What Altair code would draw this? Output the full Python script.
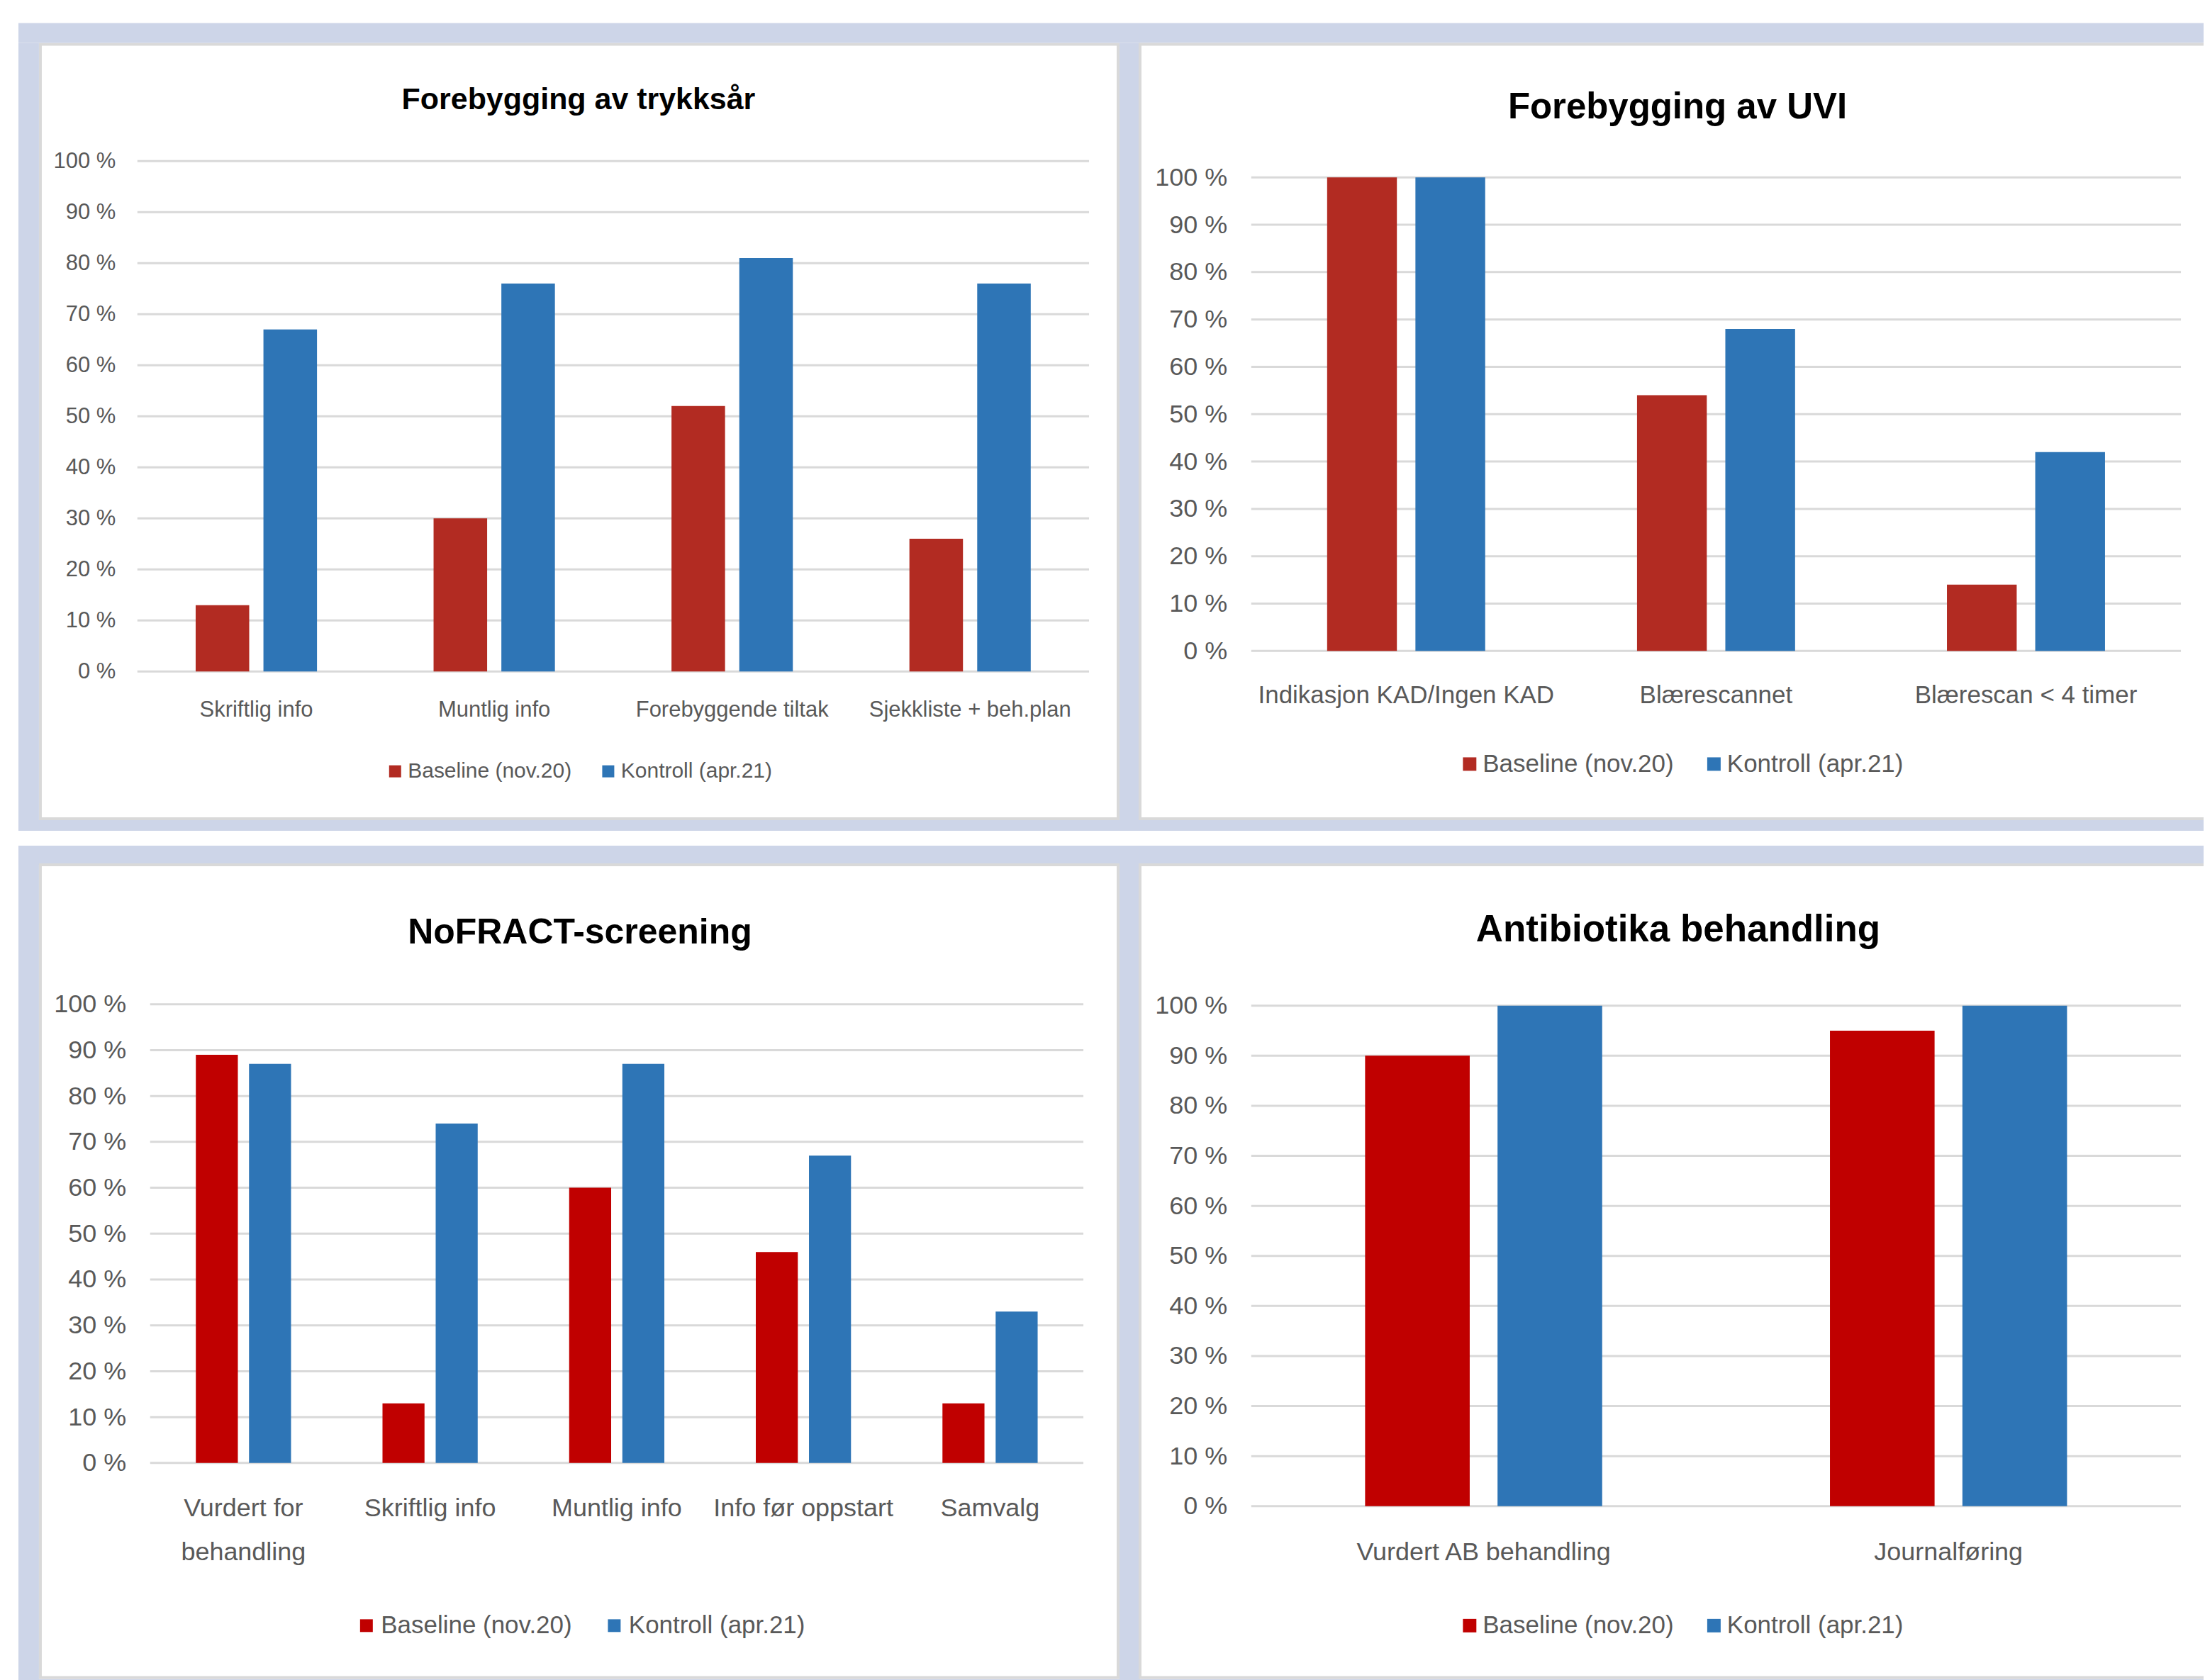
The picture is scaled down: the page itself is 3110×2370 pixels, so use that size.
import altair as alt
import pandas as pd

# ---- data -------------------------------------------------------------
SERIES = ["Baseline (nov.20)", "Kontroll (apr.21)"]
PERCENT_TICKS = [0, 10, 20, 30, 40, 50, 60, 70, 80, 90, 100]

trykk_title = "Forebygging av trykksår"
trykk_categories = ["Skriftlig info", "Muntlig info", "Forebyggende tiltak", "Sjekkliste + beh.plan"]
trykk_baseline = [13, 30, 52, 26]
trykk_kontroll = [67, 76, 81, 76]

uvi_title = "Forebygging av UVI"
uvi_categories = ["Indikasjon KAD/Ingen KAD", "Blærescannet", "Blærescan < 4 timer"]
uvi_baseline = [100, 54, 14]
uvi_kontroll = [100, 68, 42]

nofract_title = "NoFRACT-screening"
nofract_categories = ["Vurdert for\nbehandling", "Skriftlig info", "Muntlig info", "Info før oppstart", "Samvalg"]
nofract_baseline = [89, 13, 60, 46, 13]
nofract_kontroll = [87, 74, 87, 67, 33]

ab_title = "Antibiotika behandling"
ab_categories = ["Vurdert AB behandling", "Journalføring"]
ab_baseline = [90, 95]
ab_kontroll = [100, 100]

# ---- style ------------------------------------------------------------
FONT = "'Liberation Sans', Arial, sans-serif"
RED_TOP = "#B22B22"
RED_BOTTOM = "#C00000"
BLUE = "#2E75B6"
FRAME = "#CDD5E8"
GRID = "#D9D9D9"
TEXT_GREY = "#595959"


def rect(x, x2, y, y2, color):
    return alt.Chart(pd.DataFrame({"s": [0]})).mark_rect(color=color).encode(
        x=alt.value(x), x2=alt.value(x2), y=alt.value(y), y2=alt.value(y2)
    )


def panel(title, categories, baseline, kontroll, red, layout, before=(), after=()):
    L = layout
    df = pd.DataFrame({
        "kategori": list(categories) * 2,
        "serie": [SERIES[0]] * len(categories) + [SERIES[1]] * len(categories),
        "andel": list(baseline) + list(kontroll),
    })

    y_scale = alt.Scale(domain=[0, 100], range=[L["y0"], L["y100"]], nice=False)
    y_axis = alt.Axis(
        values=PERCENT_TICKS, labelExpr="datum.value + ' %'", title=None,
        domain=False, ticks=False, tickSize=0, grid=False, labelPadding=0,
        offset=-L["tick_right"], labelFont=FONT, labelFontSize=L["tick_fs"],
        labelColor=TEXT_GREY,
    )

    gridlines = alt.Chart(pd.DataFrame({"andel": PERCENT_TICKS})).mark_rule(
        color=GRID, strokeWidth=3
    ).encode(
        y=alt.Y("andel:Q", scale=y_scale, axis=y_axis),
        x=alt.value(L["plot_left"]),
        x2=alt.value(L["plot_right"]),
    )

    bars = alt.Chart(df).mark_bar().encode(
        x=alt.X(
            "kategori:N", sort=list(categories),
            scale=alt.Scale(range=[L["plot_left"], L["plot_right"]],
                            paddingInner=0.49, paddingOuter=0.245),
            axis=alt.Axis(
                title=None, domain=False, ticks=False, tickSize=0, grid=False,
                labelPadding=0, labelAngle=0, labelBaseline="alphabetic",
                labelFont=FONT, labelFontSize=L["cat_fs"], labelColor=TEXT_GREY,
                labelLimit=0, labelOverlap=False,
                labelExpr="split(datum.label, '\\n')",
                labelLineHeight=L.get("cat_lh", 60),
                offset=L["cat_base"] - L["H"],
            ),
        ),
        xOffset=alt.XOffset("serie:N", sort=SERIES,
                            scale=alt.Scale(paddingInner=0.21, paddingOuter=0)),
        y=alt.Y("andel:Q", scale=y_scale, axis=y_axis),
        color=alt.Color(
            "serie:N", sort=SERIES,
            scale=alt.Scale(domain=SERIES, range=[red, BLUE]),
            legend=alt.Legend(
                title=None, orient="none", direction="horizontal",
                legendX=L["leg_x"], legendY=L["leg_y"], padding=0,
                symbolType="square", symbolSize=L["sym"] ** 2,
                symbolStrokeWidth=0, symbolOpacity=1,
                labelFont=FONT, labelFontSize=L["leg_fs"], labelColor=TEXT_GREY,
                labelOffset=L["leg_gap"], columnPadding=L["leg_col"], labelLimit=0,
            ),
        ),
    )

    heading = alt.Chart(pd.DataFrame({"tittel": [title]})).mark_text(
        font=FONT, fontSize=L["title_fs"], fontWeight="bold", color="#000000",
        align="center", baseline="alphabetic",
    ).encode(
        text="tittel:N",
        x=alt.value(L["title_x"]),
        y=alt.value(L["title_y"]),
    )

    return alt.layer(*before, gridlines, bars, heading, *after).properties(
        width=L["W"], height=L["H"]
    )


# blue-grey frame around the panels, positioned relative to the first panel
frame = [
    rect(-31, 3055, -30, -2, FRAME),        # above the top row
    rect(-31, -2, -2, 1111, FRAME),         # left of the top row
    rect(-31, -2, 1132, 2311, FRAME),       # left of the bottom row
    rect(1524, 1553, -2, 1111, FRAME),      # between the columns, top row
    rect(1524, 1553, 1132, 2311, FRAME),    # between the columns, bottom row
    rect(-31, 3055, 1096, 1111, FRAME),     # below the top row
    rect(-31, 3055, 1132, 1159, FRAME),     # above the bottom row
    rect(-31, 3055, 2309, 2311, FRAME),     # below the bottom row
]

# the right-hand panels run on past the right edge: hide their right border
open_right = [
    rect(1498, 1502, -1157, -67, "white"),
    rect(1498, 1502, 2, 1146, "white"),
]

tl = panel(trykk_title, trykk_categories, trykk_baseline, trykk_kontroll, RED_TOP, dict(
    W=1522, H=1094, plot_left=137, plot_right=1481, y0=886, y100=165,
    tick_right=106, tick_fs=31, cat_base=949, cat_fs=31,
    title_x=760, title_y=92, title_fs=43,
    leg_x=486, leg_y=1012, leg_fs=30, sym=17, leg_gap=3, leg_col=36,
), before=frame)

tr = panel(uvi_title, uvi_categories, uvi_baseline, uvi_kontroll, RED_TOP, dict(
    W=1500, H=1094, plot_left=157, plot_right=1470, y0=857, y100=188,
    tick_right=123, tick_fs=36, cat_base=930, cat_fs=35,
    title_x=759, title_y=105, title_fs=51,
    leg_x=448, leg_y=999, leg_fs=35, sym=19, leg_gap=1, leg_col=39,
))

bl = panel(nofract_title, nofract_categories, nofract_baseline, nofract_kontroll, RED_BOTTOM, dict(
    W=1522, H=1148, plot_left=155, plot_right=1473, y0=845, y100=197,
    tick_right=121, tick_fs=36, cat_base=920, cat_fs=36, cat_lh=62,
    title_x=762, title_y=111, title_fs=50,
    leg_x=443, leg_y=1057, leg_fs=35, sym=18, leg_gap=3, leg_col=42,
))

br = panel(ab_title, ab_categories, ab_baseline, ab_kontroll, RED_BOTTOM, dict(
    W=1500, H=1148, plot_left=157, plot_right=1470, y0=906, y100=199,
    tick_right=123, tick_fs=36, cat_base=982, cat_fs=36,
    title_x=760, title_y=108, title_fs=53,
    leg_x=448, leg_y=1057, leg_fs=35, sym=19, leg_gap=1, leg_col=39,
), after=open_right)

chart = alt.concat(
    tl, tr, bl, br,
    columns=2,
    spacing={"row": 65, "column": 31},
    bounds="flush",
    padding={"left": 24, "top": 29, "right": 0, "bottom": 0},
    background="white",
).resolve_scale(
    x="independent", y="independent", xOffset="independent", color="independent"
).resolve_legend(
    color="independent"
).configure_view(
    fill="white", stroke=GRID, strokeWidth=4
)

chart.save("out.html", embed_options={"renderer": "svg", "actions": False})
